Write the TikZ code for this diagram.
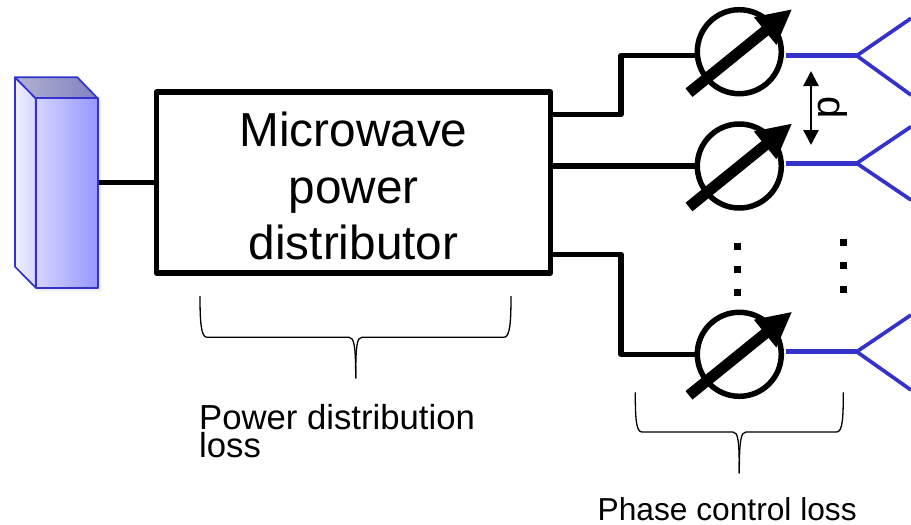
\documentclass[tikz,border=0pt]{standalone}
\usepackage{fontspec}
\setmainfont{Liberation Sans}
\usepackage{tikz}
\usetikzlibrary{arrows.meta}

\begin{document}
\begin{tikzpicture}[x=1pt,y=-1pt]
    % `feed' and `horn' are the blue antenna lines.
    % `shifter' is the phase shifter circle, `shifterarrow' the fat arrow over it.
    \definecolor{antblue}{RGB}{51,51,204}
    \definecolor{frontleft}{RGB}{212,212,255}
    \definecolor{frontright}{RGB}{150,150,255}
    \definecolor{sideleft}{RGB}{240,240,255}
    \definecolor{sideright}{RGB}{214,214,255}
    \definecolor{topleft}{RGB}{178,178,210}
    \definecolor{topright}{RGB}{128,128,194}
    \tikzstyle{wire} = [black,line width=5.5pt,line join=round]
    \tikzstyle{feed} = [antblue,line width=5.3pt]
    \tikzstyle{horn} = [antblue,line width=3.7pt,line join=round]
    \tikzstyle{distbox} = [draw,line width=5.5pt,line join=round,minimum width=394pt,minimum height=181pt,inner sep=0pt]
    \tikzstyle{shifter} = [draw,circle,line width=5.5pt,minimum size=84pt,inner sep=0pt]
    \tikzstyle{shifterarrow} = [line width=11pt,-{Triangle[length=35pt,width=33pt]}]
    \tikzstyle{pitcharrow} = [line width=2.3pt,{Triangle[length=15pt,width=15pt]}-{Triangle[length=15pt,width=15pt]}]
    \tikzstyle{dotmark} = [fill=black,minimum size=7pt,inner sep=0pt]
    \tikzstyle{brace} = [line width=1.3pt]
    \tikzstyle{srcedge} = [draw=antblue,line width=1.7pt,line join=round]
    \tikzstyle{srcshadow} = [fill=black,opacity=0.07]
    \useasboundingbox (0,0) rectangle (911,525);
    %
    % Source block.
    \fill[srcshadow] (17,270) -- (38,291) -- (101,291) -- (101,101) -- (97,98) -- cycle;
    \fill[srcshadow] (16,268) -- (37,289) -- (99,289) -- (99,100) -- (97,98) -- cycle;
    \shade[srcedge,left color=sideleft,right color=sideright] (15,77.3) -- (35.7,98.3) -- (35.7,287.7) -- (15,266.7) -- cycle;
    \shade[srcedge,left color=topleft,right color=topright] (15,77.3) -- (77.3,77.3) -- (97.7,98.3) -- (35.7,98.3) -- cycle;
    \node[srcedge,minimum width=62pt,minimum height=189.4pt,inner sep=0pt,left color=frontleft,right color=frontright] (src) at (66.7,193) {};
    %
    \node[distbox] (dist) at (353.5,182.5) {};
    \node[align=center,inner sep=0pt,font=\fontsize{47.7}{56.5}\selectfont] (distlabel) at (353.5,186) {Microwave\\power\\distributor};
    %
    \node[shifter] (ps1) at (739.3,51.7) {};
    \node[shifter] (ps2) at (739.3,166) {};
    \node[shifter] (ps3) at (739.3,354.3) {};
    %
    \coordinate (bend1) at (621,55.7);
    \coordinate (bend3) at (621,354.3);
    \coordinate (tee1) at (856.7,55.7);
    \coordinate (tee2) at (856.7,163.3);
    \coordinate (tee3) at (856.7,351.7);
    \coordinate (feed1) at (786,55.7);
    \coordinate (feed2) at (786,163.3);
    \coordinate (feed3) at (786,351.7);
    \coordinate (pitchtop) at (811,71);
    \coordinate (pitchbot) at (811,145);
    %
    % Draw lines.
    \draw[wire] (src.east |- dist.west) -- (dist.west);
    \draw[wire] (dist.east |- 0,114.3) -| (bend1) -- (bend1 -| ps1.west);
    \draw[wire] (dist.east |- ps2) -- (ps2.west);
    \draw[wire] (dist.east |- 0,254.3) -| (bend3) -- (ps3.west);
    \draw[feed] (feed1) -- (tee1);
    \draw[feed] (feed2) -- (tee2);
    \draw[feed] (feed3) -- (tee3);
    \draw[horn] (911,18.3) -- (tee1) -- (911,95);
    \draw[horn] (911,126.7) -- (tee2) -- (911,200);
    \draw[horn] (911,315) -- (tee3) -- (911,390);
    %
    \draw[shifterarrow] ([shift={(-50.3,41)}]ps1.center) -- ([shift={(53,-42.7)}]ps1.center);
    \draw[shifterarrow] ([shift={(-50.3,41)}]ps2.center) -- ([shift={(53,-42.7)}]ps2.center);
    \draw[shifterarrow] ([shift={(-50.3,41)}]ps3.center) -- ([shift={(53,-42.7)}]ps3.center);
    %
    \draw[pitcharrow] (pitchtop) -- (pitchbot);
    \node[rotate=-90,inner sep=0pt,font=\fontsize{40}{40}\selectfont] (pitch) at (833,108) {d};
    %
    \node[dotmark] (dotl1) at (737.3,246) {};
    \node[dotmark] (dotl2) at (737.3,269.3) {};
    \node[dotmark] (dotl3) at (737.3,292.7) {};
    \node[dotmark] (dotr1) at (843.7,242.7) {};
    \node[dotmark] (dotr2) at (843.7,265.3) {};
    \node[dotmark] (dotr3) at (843.7,289) {};
    %
    % Braces under the box and under the shifter.
    \draw[brace] (200,296) .. controls (200,322) and (201,337.3) .. (207,337.3) -- (349,337.3) .. controls (354,337.3) and (355.7,345) .. (355.7,378.3);
    \draw[brace] (511,296) .. controls (511,322) and (510,337.3) .. (504,337.3) -- (362,337.3) .. controls (357,337.3) and (355.7,345) .. (355.7,378.3);
    \draw[brace] (635.3,392.3) .. controls (635.3,418) and (636,432) .. (642,432) -- (733,432) .. controls (738,432) and (739.3,440) .. (739.3,473.3);
    \draw[brace] (843.3,392.3) .. controls (843.3,418) and (842.6,432) .. (836.6,432) -- (746,432) .. controls (741,432) and (739.3,440) .. (739.3,473.3);
    %
    \node[anchor=north west,inner sep=0pt,align=left,font=\fontsize{34.7}{28.5}\selectfont] (lossdist) at (199,404) {Power distribution\\loss};
    \node[anchor=base west,inner sep=0pt,font=\fontsize{31.7}{34}\selectfont] (lossphase) at (597.5,520) {Phase control loss};
\end{tikzpicture}
\end{document}
